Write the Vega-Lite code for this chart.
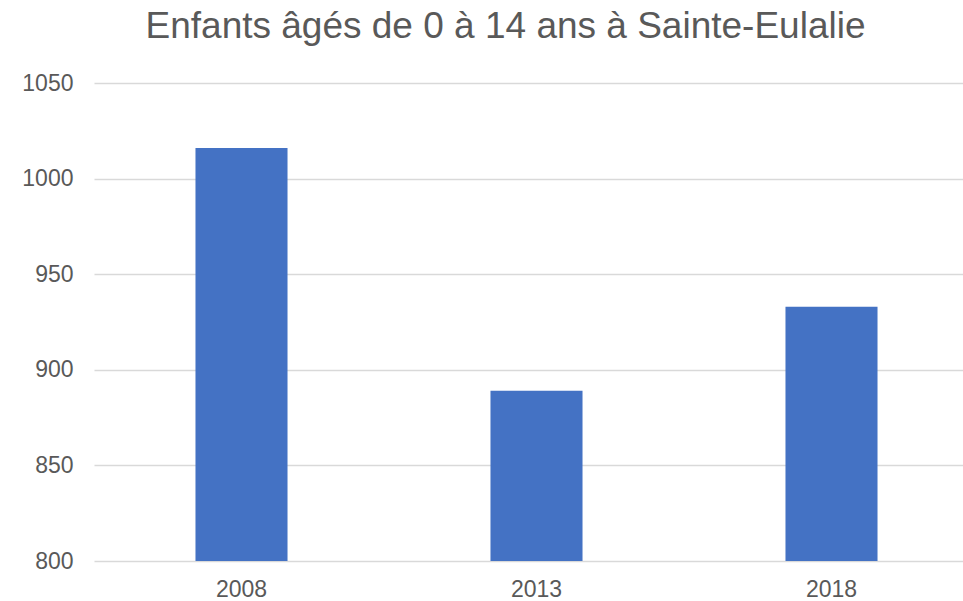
{
  "$schema": "https://vega.github.io/schema/vega-lite/v6.json",
  "autosize": "none",
  "width": 885,
  "height": 478,
  "padding": {"left": 94, "top": 83, "right": 0, "bottom": 40},
  "background": "white",
  "title": {
    "text": "Enfants âgés de 0 à 14 ans à Sainte-Eulalie",
    "font": "Liberation Sans",
    "fontSize": 37,
    "fontWeight": "normal",
    "color": "#595959",
    "anchor": "middle",
    "frame": "group",
    "offset": 26,
    "dx": -31
  },
  "data": {
    "values": [
      {"annee": "2008", "enfants": 1016},
      {"annee": "2013", "enfants": 889},
      {"annee": "2018", "enfants": 933}
    ]
  },
  "mark": {"type": "bar", "color": "#4472C4", "clip": true},
  "encoding": {
    "x": {
      "field": "annee",
      "type": "nominal",
      "title": null,
      "scale": {"paddingInner": 0.688, "paddingOuter": 0.344},
      "axis": {
        "labelAngle": 0,
        "labelFont": "Liberation Sans",
        "labelFontSize": 23,
        "labelColor": "#595959",
        "labelPadding": 17,
        "ticks": false,
        "domain": false,
        "grid": false
      }
    },
    "y": {
      "field": "enfants",
      "type": "quantitative",
      "title": null,
      "scale": {"domain": [800, 1050], "nice": false, "zero": false},
      "axis": {
        "values": [800, 850, 900, 950, 1000, 1050],
        "format": "d",
        "labelFont": "Liberation Sans",
        "labelFontSize": 23,
        "labelColor": "#595959",
        "labelPadding": 21,
        "ticks": false,
        "domain": false,
        "grid": true,
        "gridColor": "#d9d9d9",
        "gridWidth": 1.3
      }
    }
  },
  "config": {"view": {"stroke": null}}
}
